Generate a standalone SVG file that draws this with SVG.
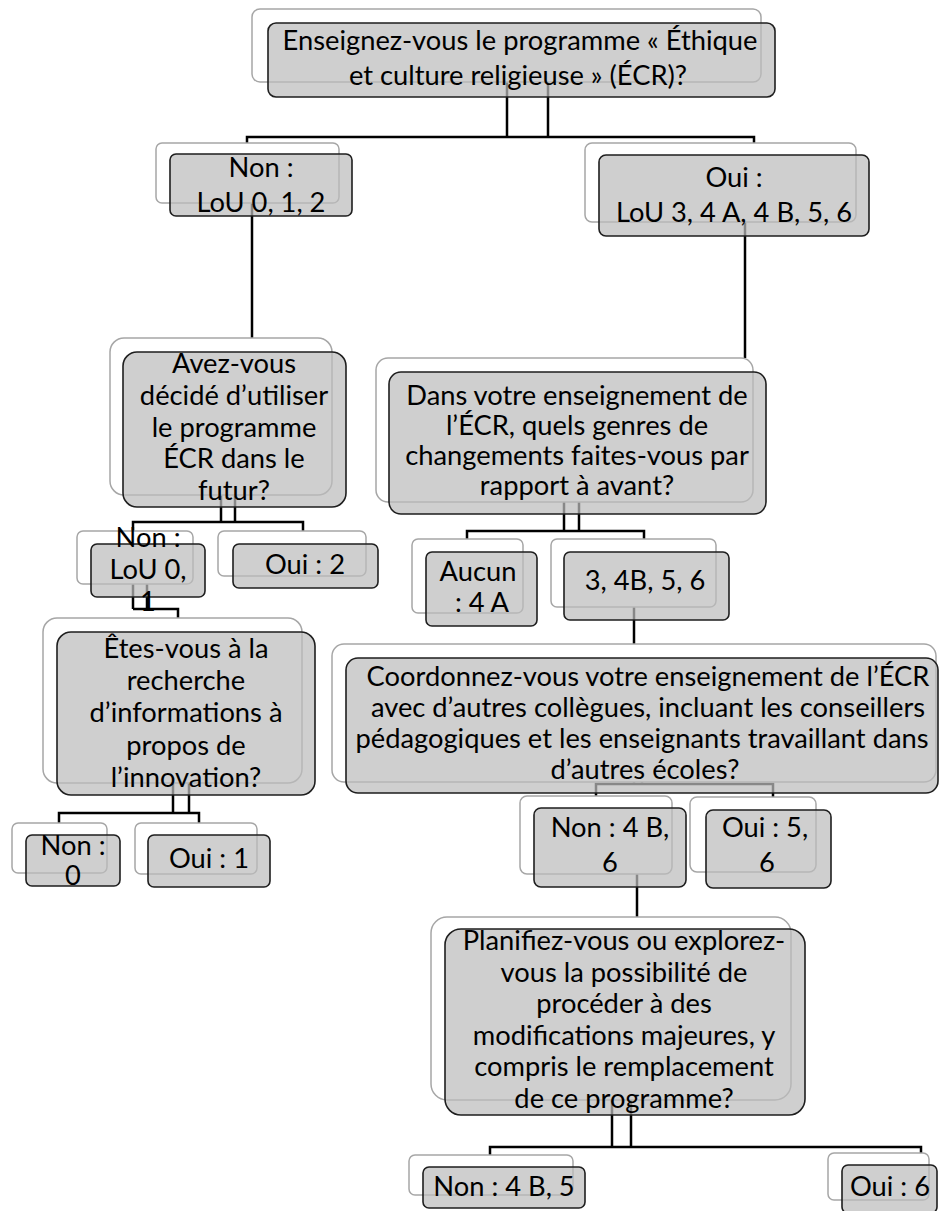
<svg xmlns="http://www.w3.org/2000/svg" width="939" height="1211" viewBox="0 0 939 1211">
<style>
.bk{fill:#fff;stroke:#a6a6a6;stroke-width:1.5}
.fr{fill:#bdbdbd;fill-opacity:0.72;stroke:#1e1e1e;stroke-width:1.6}
.cn{fill:none;stroke:#000;stroke-width:2.5}
text{font-family:Lato,"Liberation Sans",sans-serif;font-size:27.3px;fill:#000;text-anchor:middle}
</style>
<rect width="939" height="1211" fill="#fff"/>
<g id="connectors" class="cn">
<path d="M507,82V137 M548,82V137 M247,143V137H754V143"/>
<path d="M252,203V338"/>
<path d="M745,222V358"/>
<path d="M221,495V522 M235,495V522 M133,531V522H303V531"/>
<path d="M564,502V531 M579,502V531 M467,539V531H644V539"/>
<path d="M133,584V609 M147,584V609 M133,609H178V618"/>
<path d="M634,607V644"/>
<path d="M173,783V813 M189,783V813 M59,823V813H199V823"/>
<path d="M634,782V784 M642,782V784 M596,796V784H773V797"/>
<path d="M637,874V917"/>
<path d="M612,1100V1147 M631,1100V1147 M490,1155V1147H921V1153"/>
</g>
<g id="n-top">
<rect class="bk" x="252" y="9" width="509" height="73" rx="8"/>
<rect class="fr" x="268" y="23" width="507" height="74" rx="8"/>
<text x="520" y="50">Enseignez-vous le programme « Éthique</text>
<text x="518" y="85">et culture religieuse » (ÉCR)?</text>
</g>
<g id="n-non1">
<rect class="bk" x="156" y="143" width="183" height="60" rx="6"/>
<rect class="fr" x="170" y="154" width="182" height="62" rx="6"/>
<text x="261" y="177">Non :</text>
<text x="261" y="212">LoU 0, 1, 2</text>
</g>
<g id="n-oui1">
<rect class="bk" x="585" y="143" width="271" height="79" rx="7"/>
<rect class="fr" x="599" y="155" width="270" height="81" rx="7"/>
<text x="734" y="187">Oui :</text>
<text x="734" y="222">LoU 3, 4 A, 4 B, 5, 6</text>
</g>
<g id="n-q2">
<rect class="bk" x="110" y="338" width="222" height="157" rx="14"/>
<rect class="fr" x="123" y="352" width="223" height="155" rx="14"/>
<text x="234" y="373">Avez-vous</text>
<text x="234" y="405">décidé d’utiliser</text>
<text x="234" y="437">le programme</text>
<text x="234" y="468">ÉCR dans le</text>
<text x="234" y="500">futur?</text>
</g>
<g id="n-qr">
<rect class="bk" x="376" y="358" width="377" height="144" rx="12"/>
<rect class="fr" x="389" y="372" width="377" height="142" rx="12"/>
<text x="577" y="405">Dans votre enseignement de</text>
<text x="577" y="435">l’ÉCR, quels genres de</text>
<text x="577" y="465">changements faites-vous par</text>
<text x="577" y="495">rapport à avant?</text>
</g>
<g id="n-non2">
<rect class="bk" x="77" y="531" width="116" height="53" rx="6"/>
<rect class="fr" x="91" y="544" width="114" height="53" rx="6"/>
<text x="148" y="547">Non :</text>
<text x="148" y="579">LoU 0,</text>
<text x="148" y="611">1</text>
</g>
<g id="n-oui2">
<rect class="bk" x="218" y="531" width="148" height="45" rx="6"/>
<rect class="fr" x="233" y="544" width="145" height="44" rx="6"/>
<text x="305" y="574">Oui : 2</text>
</g>
<g id="n-aucun">
<rect class="bk" x="412" y="539" width="111" height="74" rx="6"/>
<rect class="fr" x="426" y="552" width="111" height="74" rx="6"/>
<text x="478" y="581">Aucun</text>
<text x="482" y="612">: 4 A</text>
</g>
<g id="n-b">
<rect class="bk" x="551" y="539" width="165" height="68" rx="6"/>
<rect class="fr" x="564" y="552" width="165" height="68" rx="6"/>
<text x="645" y="590">3, 4B, 5, 6</text>
</g>
<g id="n-q3">
<rect class="bk" x="43" y="618" width="259" height="165" rx="14"/>
<rect class="fr" x="57" y="632" width="258" height="163" rx="14"/>
<text x="186" y="658">Êtes-vous à la</text>
<text x="186" y="690">recherche</text>
<text x="186" y="722">d’informations à</text>
<text x="186" y="755">propos de</text>
<text x="186" y="787">l’innovation?</text>
</g>
<g id="n-qc">
<rect class="bk" x="332" y="644" width="604" height="138" rx="12"/>
<rect class="fr" x="346" y="658" width="592" height="135" rx="12"/>
<text x="648" y="686">Coordonnez-vous votre enseignement de l’ÉCR</text>
<text x="648" y="717">avec d’autres collègues, incluant les conseillers</text>
<text x="642" y="748">pédagogiques et les enseignants travaillant dans</text>
<text x="645" y="779">d’autres écoles?</text>
</g>
<g id="n-non3">
<rect class="bk" x="12" y="823" width="95" height="50" rx="6"/>
<rect class="fr" x="26" y="835" width="94" height="51" rx="6"/>
<text x="73" y="855">Non :</text>
<text x="73" y="885">0</text>
</g>
<g id="n-oui3">
<rect class="bk" x="135" y="823" width="122" height="51" rx="6"/>
<rect class="fr" x="148" y="835" width="122" height="52" rx="6"/>
<text x="209" y="868">Oui : 1</text>
</g>
<g id="n-non4">
<rect class="bk" x="520" y="796" width="152" height="78" rx="7"/>
<rect class="fr" x="534" y="808" width="152" height="79" rx="7"/>
<text x="610" y="837">Non : 4 B,</text>
<text x="610" y="872">6</text>
</g>
<g id="n-oui4">
<rect class="bk" x="690" y="797" width="126" height="75" rx="7"/>
<rect class="fr" x="706" y="810" width="125" height="78" rx="7"/>
<text x="765" y="837">Oui : 5,</text>
<text x="767" y="872">6</text>
</g>
<g id="n-qp">
<rect class="bk" x="431" y="917" width="360" height="183" rx="16"/>
<rect class="fr" x="445" y="929" width="360" height="186" rx="16"/>
<text x="624" y="950">Planifiez-vous ou explorez-</text>
<text x="624" y="982">vous la possibilité de</text>
<text x="624" y="1013">procéder à des</text>
<text x="624" y="1045">modifications majeures, y</text>
<text x="624" y="1076">compris le remplacement</text>
<text x="624" y="1108">de ce programme?</text>
</g>
<g id="n-non5">
<rect class="bk" x="409" y="1155" width="164" height="40" rx="6"/>
<rect class="fr" x="423" y="1167" width="162" height="41" rx="6"/>
<text x="504" y="1196">Non : 4 B, 5</text>
</g>
<g id="n-oui5">
<rect class="bk" x="828" y="1153" width="101" height="47" rx="6"/>
<rect class="fr" x="842" y="1165" width="95" height="48" rx="6"/>
<text x="890" y="1196">Oui : 6</text>
</g>
</svg>
